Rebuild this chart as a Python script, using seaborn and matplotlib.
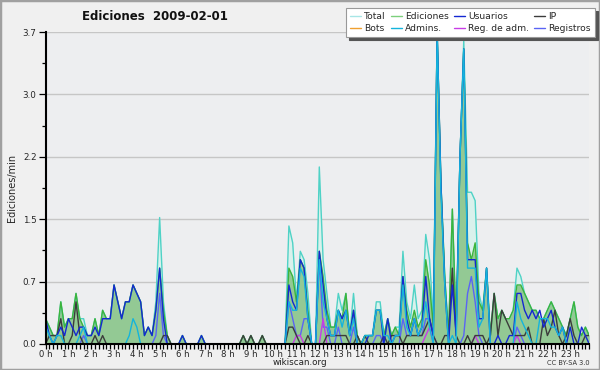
import numpy as np
import pandas as pd
import matplotlib
matplotlib.use("Agg")
import matplotlib.pyplot as plt
import seaborn as sns
from matplotlib.lines import Line2D
from matplotlib.patches import Rectangle

sns.set_theme(style="white")
plt.rcParams['font.family'] = ['DejaVu Sans']

# ---- data: edits per minute, 10-minute bins (144 per day) ----
total = [
    0.3, 0.2, 0.1, 0.1, 0.5, 0.2, 0.3, 0.3, 0.6, 0.3, 0.3, 0.1,
    0.1, 0.3, 0.1, 0.4, 0.3, 0.3, 0.7, 0.5, 0.3, 0.5, 0.5, 0.7,
    0.6, 0.5, 0.1, 0.2, 0.1, 0.5, 1.5, 0.5, 0.1, 0.0, 0.0, 0.0,
    0.1, 0.0, 0.0, 0.0, 0.0, 0.1, 0.0, 0.0, 0.0, 0.0, 0.0, 0.0,
    0.0, 0.0, 0.0, 0.0, 0.1, 0.0, 0.1, 0.0, 0.0, 0.1, 0.0, 0.0,
    0.0, 0.0, 0.0, 0.0, 1.4, 1.2, 0.5, 1.1, 1.0, 0.6, 0.0, 0.0,
    2.1, 1.0, 0.6, 0.2, 0.2, 0.6, 0.4, 0.6, 0.1, 0.6, 0.1, 0.0,
    0.1, 0.1, 0.1, 0.5, 0.5, 0.1, 0.3, 0.1, 0.2, 0.2, 1.1, 0.5,
    0.3, 0.7, 0.3, 0.4, 1.3, 1.0, 0.3, 3.7, 1.9, 0.8, 0.1, 1.6,
    0.2, 2.2, 3.6, 1.8, 1.8, 1.7, 0.6, 0.4, 0.9, 0.1, 0.6, 0.3,
    0.4, 0.3, 0.3, 0.4, 0.9, 0.8, 0.6, 0.5, 0.4, 0.4, 0.3, 0.3,
    0.4, 0.5, 0.4, 0.3, 0.2, 0.1, 0.3, 0.5, 0.2, 0.1, 0.2, 0.1,
]
ediciones = [
    0.3, 0.2, 0.1, 0.1, 0.5, 0.2, 0.3, 0.3, 0.6, 0.3, 0.2, 0.1,
    0.1, 0.3, 0.1, 0.4, 0.3, 0.3, 0.7, 0.5, 0.3, 0.5, 0.5, 0.7,
    0.6, 0.5, 0.1, 0.2, 0.1, 0.4, 0.9, 0.4, 0.1, 0.0, 0.0, 0.0,
    0.1, 0.0, 0.0, 0.0, 0.0, 0.1, 0.0, 0.0, 0.0, 0.0, 0.0, 0.0,
    0.0, 0.0, 0.0, 0.0, 0.1, 0.0, 0.1, 0.0, 0.0, 0.1, 0.0, 0.0,
    0.0, 0.0, 0.0, 0.0, 0.9, 0.8, 0.5, 1.0, 0.9, 0.4, 0.0, 0.0,
    1.1, 0.8, 0.4, 0.2, 0.2, 0.4, 0.3, 0.6, 0.1, 0.4, 0.1, 0.0,
    0.1, 0.1, 0.1, 0.4, 0.4, 0.1, 0.3, 0.1, 0.2, 0.1, 0.8, 0.4,
    0.2, 0.4, 0.2, 0.3, 1.0, 0.7, 0.2, 3.7, 1.9, 0.8, 0.1, 1.6,
    0.2, 2.2, 3.5, 1.2, 1.0, 1.2, 0.5, 0.4, 0.9, 0.1, 0.6, 0.3,
    0.4, 0.3, 0.3, 0.4, 0.7, 0.7, 0.6, 0.5, 0.4, 0.4, 0.3, 0.3,
    0.4, 0.5, 0.4, 0.3, 0.2, 0.1, 0.3, 0.5, 0.2, 0.1, 0.2, 0.1,
]
usuarios = [
    0.3, 0.1, 0.0, 0.1, 0.2, 0.1, 0.3, 0.2, 0.1, 0.2, 0.2, 0.1,
    0.1, 0.2, 0.1, 0.3, 0.3, 0.3, 0.7, 0.5, 0.3, 0.5, 0.5, 0.7,
    0.6, 0.5, 0.1, 0.2, 0.1, 0.4, 0.9, 0.3, 0.0, 0.0, 0.0, 0.0,
    0.1, 0.0, 0.0, 0.0, 0.0, 0.1, 0.0, 0.0, 0.0, 0.0, 0.0, 0.0,
    0.0, 0.0, 0.0, 0.0, 0.0, 0.0, 0.0, 0.0, 0.0, 0.0, 0.0, 0.0,
    0.0, 0.0, 0.0, 0.0, 0.7, 0.5, 0.4, 1.0, 0.9, 0.3, 0.0, 0.0,
    1.1, 0.7, 0.3, 0.1, 0.1, 0.4, 0.3, 0.4, 0.1, 0.4, 0.0, 0.0,
    0.0, 0.1, 0.1, 0.4, 0.4, 0.0, 0.3, 0.0, 0.1, 0.1, 0.8, 0.3,
    0.1, 0.3, 0.1, 0.2, 0.8, 0.3, 0.1, 3.7, 1.9, 0.7, 0.0, 0.7,
    0.1, 2.2, 3.5, 1.0, 1.0, 1.0, 0.3, 0.3, 0.9, 0.0, 0.0, 0.1,
    0.0, 0.0, 0.1, 0.1, 0.6, 0.6, 0.4, 0.3, 0.4, 0.3, 0.4, 0.2,
    0.3, 0.4, 0.2, 0.1, 0.2, 0.0, 0.2, 0.0, 0.0, 0.2, 0.1, 0.0,
]
ip = [
    0.0, 0.1, 0.1, 0.1, 0.3, 0.0, 0.0, 0.1, 0.5, 0.1, 0.0, 0.0,
    0.0, 0.1, 0.0, 0.1, 0.0, 0.0, 0.0, 0.0, 0.0, 0.0, 0.0, 0.0,
    0.0, 0.0, 0.0, 0.0, 0.0, 0.0, 0.0, 0.1, 0.1, 0.0, 0.0, 0.0,
    0.0, 0.0, 0.0, 0.0, 0.0, 0.0, 0.0, 0.0, 0.0, 0.0, 0.0, 0.0,
    0.0, 0.0, 0.0, 0.0, 0.1, 0.0, 0.1, 0.0, 0.0, 0.1, 0.0, 0.0,
    0.0, 0.0, 0.0, 0.0, 0.2, 0.2, 0.1, 0.0, 0.0, 0.1, 0.0, 0.0,
    0.0, 0.0, 0.1, 0.1, 0.1, 0.1, 0.1, 0.1, 0.0, 0.0, 0.1, 0.0,
    0.1, 0.0, 0.0, 0.0, 0.0, 0.1, 0.0, 0.1, 0.1, 0.1, 0.0, 0.1,
    0.1, 0.1, 0.1, 0.1, 0.2, 0.3, 0.1, 0.0, 0.0, 0.1, 0.1, 0.9,
    0.1, 0.0, 0.0, 0.1, 0.0, 0.1, 0.1, 0.1, 0.0, 0.1, 0.6, 0.1,
    0.4, 0.3, 0.2, 0.1, 0.1, 0.1, 0.1, 0.2, 0.0, 0.0, 0.0, 0.3,
    0.1, 0.2, 0.4, 0.1, 0.0, 0.1, 0.3, 0.1, 0.0, 0.0, 0.1, 0.1,
]
bots = [
    0.0, 0.0, 0.0, 0.0, 0.0, 0.0, 0.0, 0.0, 0.0, 0.0, 0.0, 0.0,
    0.0, 0.0, 0.0, 0.0, 0.0, 0.0, 0.0, 0.0, 0.0, 0.0, 0.0, 0.0,
    0.0, 0.0, 0.0, 0.0, 0.0, 0.0, 0.0, 0.0, 0.0, 0.0, 0.0, 0.0,
    0.0, 0.0, 0.0, 0.0, 0.0, 0.0, 0.0, 0.0, 0.0, 0.0, 0.0, 0.0,
    0.0, 0.0, 0.0, 0.0, 0.0, 0.0, 0.0, 0.0, 0.0, 0.0, 0.0, 0.0,
    0.0, 0.0, 0.0, 0.0, 0.0, 0.0, 0.0, 0.0, 0.0, 0.0, 0.0, 0.0,
    0.0, 0.0, 0.0, 0.0, 0.0, 0.0, 0.0, 0.0, 0.0, 0.0, 0.0, 0.0,
    0.0, 0.0, 0.0, 0.0, 0.0, 0.0, 0.0, 0.0, 0.0, 0.0, 0.0, 0.0,
    0.0, 0.0, 0.0, 0.0, 0.0, 0.0, 0.0, 0.0, 0.0, 0.0, 0.0, 0.0,
    0.0, 0.0, 0.0, 0.0, 0.0, 0.0, 0.0, 0.0, 0.0, 0.0, 0.0, 0.0,
    0.0, 0.0, 0.0, 0.0, 0.0, 0.0, 0.0, 0.0, 0.0, 0.0, 0.0, 0.0,
    0.0, 0.0, 0.0, 0.0, 0.0, 0.0, 0.0, 0.0, 0.0, 0.0, 0.0, 0.0,
]
admins = [
    0.2, 0.1, 0.0, 0.1, 0.1, 0.0, 0.0, 0.0, 0.0, 0.1, 0.2, 0.0,
    0.0, 0.0, 0.0, 0.0, 0.0, 0.0, 0.0, 0.0, 0.0, 0.0, 0.1, 0.3,
    0.2, 0.0, 0.0, 0.0, 0.0, 0.0, 0.0, 0.0, 0.0, 0.0, 0.0, 0.0,
    0.0, 0.0, 0.0, 0.0, 0.0, 0.0, 0.0, 0.0, 0.0, 0.0, 0.0, 0.0,
    0.0, 0.0, 0.0, 0.0, 0.0, 0.0, 0.0, 0.0, 0.0, 0.0, 0.0, 0.0,
    0.0, 0.0, 0.0, 0.0, 0.5, 0.4, 0.4, 0.9, 0.8, 0.3, 0.0, 0.0,
    1.0, 0.5, 0.3, 0.1, 0.1, 0.4, 0.2, 0.4, 0.1, 0.3, 0.0, 0.0,
    0.1, 0.1, 0.1, 0.4, 0.4, 0.1, 0.1, 0.0, 0.1, 0.1, 0.7, 0.2,
    0.1, 0.3, 0.1, 0.2, 0.5, 0.2, 0.0, 3.7, 1.8, 0.7, 0.0, 0.1,
    0.0, 2.2, 3.5, 0.9, 0.9, 0.9, 0.2, 0.3, 0.9, 0.0, 0.0, 0.0,
    0.0, 0.0, 0.0, 0.0, 0.5, 0.3, 0.2, 0.1, 0.0, 0.0, 0.3, 0.3,
    0.3, 0.2, 0.2, 0.1, 0.2, 0.0, 0.0, 0.0, 0.0, 0.0, 0.0, 0.0,
]
reg_adm = [
    0.0, 0.0, 0.0, 0.0, 0.0, 0.0, 0.0, 0.0, 0.0, 0.0, 0.0, 0.0,
    0.0, 0.0, 0.0, 0.0, 0.0, 0.0, 0.0, 0.0, 0.0, 0.0, 0.0, 0.0,
    0.0, 0.0, 0.0, 0.0, 0.0, 0.0, 0.0, 0.0, 0.0, 0.0, 0.0, 0.0,
    0.0, 0.0, 0.0, 0.0, 0.0, 0.0, 0.0, 0.0, 0.0, 0.0, 0.0, 0.0,
    0.0, 0.0, 0.0, 0.0, 0.0, 0.0, 0.0, 0.0, 0.0, 0.0, 0.0, 0.0,
    0.0, 0.0, 0.0, 0.0, 0.0, 0.0, 0.1, 0.1, 0.0, 0.0, 0.0, 0.0,
    0.0, 0.3, 0.0, 0.0, 0.0, 0.0, 0.0, 0.0, 0.0, 0.0, 0.0, 0.0,
    0.0, 0.0, 0.0, 0.0, 0.0, 0.0, 0.0, 0.0, 0.0, 0.0, 0.0, 0.0,
    0.0, 0.0, 0.0, 0.0, 0.1, 0.2, 0.0, 0.0, 0.0, 0.0, 0.0, 0.0,
    0.0, 0.0, 0.0, 0.0, 0.0, 0.1, 0.0, 0.0, 0.0, 0.0, 0.0, 0.0,
    0.0, 0.0, 0.0, 0.0, 0.1, 0.0, 0.0, 0.0, 0.0, 0.0, 0.0, 0.0,
    0.0, 0.0, 0.0, 0.0, 0.0, 0.0, 0.0, 0.0, 0.0, 0.0, 0.0, 0.0,
]
registros = [
    0.0, 0.0, 0.0, 0.0, 0.0, 0.0, 0.0, 0.0, 0.0, 0.0, 0.1, 0.0,
    0.0, 0.0, 0.0, 0.0, 0.0, 0.0, 0.0, 0.0, 0.0, 0.0, 0.0, 0.0,
    0.0, 0.0, 0.0, 0.0, 0.0, 0.1, 0.6, 0.1, 0.0, 0.0, 0.0, 0.0,
    0.0, 0.0, 0.0, 0.0, 0.0, 0.0, 0.0, 0.0, 0.0, 0.0, 0.0, 0.0,
    0.0, 0.0, 0.0, 0.0, 0.0, 0.0, 0.0, 0.0, 0.0, 0.0, 0.0, 0.0,
    0.0, 0.0, 0.0, 0.0, 0.5, 0.3, 0.1, 0.1, 0.3, 0.3, 0.0, 0.0,
    1.0, 0.2, 0.2, 0.0, 0.0, 0.2, 0.0, 0.0, 0.0, 0.2, 0.0, 0.0,
    0.0, 0.0, 0.0, 0.1, 0.1, 0.0, 0.0, 0.0, 0.0, 0.0, 0.3, 0.1,
    0.1, 0.3, 0.1, 0.1, 0.3, 0.3, 0.1, 0.0, 0.0, 0.0, 0.0, 0.0,
    0.0, 0.0, 0.1, 0.6, 0.8, 0.5, 0.1, 0.0, 0.0, 0.0, 0.0, 0.0,
    0.0, 0.0, 0.0, 0.0, 0.2, 0.1, 0.0, 0.0, 0.0, 0.0, 0.0, 0.0,
    0.0, 0.0, 0.0, 0.0, 0.0, 0.0, 0.0, 0.0, 0.0, 0.0, 0.0, 0.0,
]
hour_labels = ["0 h", "1 h", "2 h", "3 h", "4 h", "5 h", "6 h", "7 h",
               "8 h", "9 h", "10 h", "11 h", "12 h", "13 h", "14 h", "15 h",
               "16 h", "17 h", "18 h", "19 h", "20 h", "21 h", "22 h", "23 h"]
y_max = 3.7

hours = np.arange(len(total)) / 6.0
df = pd.DataFrame({"hora": hours, "Total": total, "Ediciones": ediciones,
                   "Usuarios": usuarios, "IP": ip, "Bots": bots,
                   "Admins.": admins, "Reg. de adm.": reg_adm,
                   "Registros": registros})

colors = {
    "Total": "#4fd2c6", "Ediciones": "#3cb43c", "Usuarios": "#1428d2",
    "IP": "#3c3c3c", "Bots": "#f0a030", "Admins.": "#14b4dc",
    "Reg. de adm.": "#c83ce6", "Registros": "#5a64f5",
}
legend_colors = dict(colors)
legend_colors["Total"] = "#a8e6e6"
legend_colors["Ediciones"] = "#7cd07c"

fig = plt.figure(figsize=(6.0, 3.7), dpi=100, facecolor="#f0f0f0")
ax = fig.add_axes([0.076, 0.0703, 0.906, 0.843])
ax.set_facecolor("#edeef0")

# fills
ax.fill_between(df["hora"], 0, df["Total"], color="#d9f1ec", linewidth=0, zorder=1)
ax.fill_between(df["hora"], 0, df["Ediciones"], color="#93c994", linewidth=0, zorder=2)

order = ["Total", "Ediciones", "Bots", "Registros", "Reg. de adm.", "IP",
         "Usuarios", "Admins."]
for k, name in enumerate(order):
    sns.lineplot(data=df, x="hora", y=name, ax=ax, color=colors[name],
                 linewidth=1.0, estimator=None, legend=False, zorder=3 + k * 0.1)

ax.set_xlim(0, hours[-1])
ax.set_ylim(0, y_max)
ax.set_xlabel("")
ax.set_ylabel("Ediciones/min", fontsize=7, labelpad=4)

ax.set_xticks(np.arange(24))
ax.set_xticklabels(hour_labels, fontsize=6.1)
ax.set_xticks(np.arange(0, hours[-1] + 0.01, 1 / 6), minor=True)
yt = [y_max * k / 5 for k in range(6)]
ax.set_yticks(yt)
ax.set_yticklabels([f"{v:.1f}" for v in yt], fontsize=6.3)
ax.set_yticks([y_max * (k + 0.5) / 5 for k in range(5)], minor=True)
ax.tick_params(axis="x", which="both", direction="out", length=3.5, width=0.9,
               color="black", pad=1.0, bottom=True)
ax.tick_params(axis="y", which="major", direction="out", length=5, width=0.9,
               color="black", pad=1.5, left=True)
ax.tick_params(axis="y", which="minor", direction="out", length=3, width=0.9,
               color="black", left=True)
for v in yt[1:]:
    ax.axhline(v, color="#c6c6c6", linewidth=1.0, zorder=0.5)
for s in ["top", "right"]:
    ax.spines[s].set_visible(False)
for s in ["left", "bottom"]:
    ax.spines[s].set_color("black")
    ax.spines[s].set_linewidth(1.5)
    ax.spines[s].set_zorder(10)

fig.text(0.258, 0.955, "Ediciones  2009-02-01", ha="center", va="center",
         fontsize=8.5, fontweight="bold", color="#111111")
fig.text(0.5, 0.019, "wikiscan.org", ha="center", va="center", fontsize=6.3,
         color="#222222")
fig.text(0.983, 0.02, "CC BY-SA 3.0", ha="right", va="center", fontsize=4.8,
         color="#333333")

leg_order = ["Total", "Bots", "Ediciones", "Admins.", "Usuarios", "Reg. de adm.",
             "IP", "Registros"]
handles = [Line2D([], [], color=legend_colors[n], linewidth=1.0) for n in leg_order]
leg = fig.legend(handles, leg_order, ncol=4, loc="upper right",
                 bbox_to_anchor=(0.992, 0.978), fontsize=6.6, frameon=True,
                 fancybox=False, shadow={"color": "#555555", "alpha": 1.0},
                 edgecolor="#999999", handlelength=1.2, handletextpad=0.35,
                 columnspacing=0.55, borderpad=0.45, labelspacing=0.3,
                 borderaxespad=0)
leg.get_frame().set_facecolor("white")
leg.get_frame().set_linewidth(0.8)

fig.patches.append(Rectangle((0, 0), 1, 1, transform=fig.transFigure,
                             fill=False, edgecolor="#a0a0a0", linewidth=2.5))

fig.savefig("out.png", dpi=100, facecolor=fig.get_facecolor())
